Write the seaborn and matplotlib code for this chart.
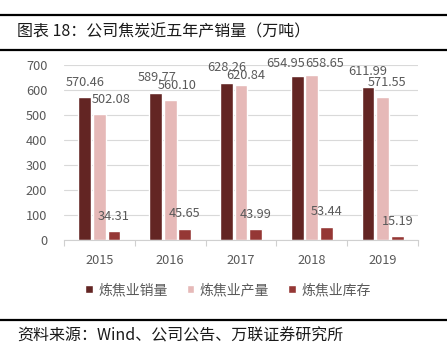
import numpy as np
import pandas as pd
import seaborn as sns
import matplotlib.pyplot as plt
from matplotlib.lines import Line2D

years = ['2015', '2016', '2017', '2018', '2019']
sales = [570.46, 589.77, 628.26, 654.95, 611.99]
production = [502.08, 560.10, 620.84, 658.65, 571.55]
inventory = [34.31, 45.65, 43.99, 53.44, 15.19]
series_names = ['炼焦业销量', '炼焦业产量', '炼焦业库存']
colors = ['#632523', '#E6B9B8', '#953735']

df = pd.DataFrame({
    'year': years * 3,
    'series': np.repeat(series_names, len(years)),
    'value': sales + production + inventory,
})

sns.set_style('white')
plt.rcParams['font.family'] = ['Noto Sans CJK SC', 'DejaVu Sans']

W, H = 447, 354
fig = plt.figure(figsize=(W / 100, H / 100), dpi=100)
ax = fig.add_axes([64 / W, 1 - 240 / H, (418 - 64) / W, (240 - 65) / H])

sns.barplot(data=df, x='year', y='value', hue='series', hue_order=series_names,
            palette=colors, saturation=1, width=0.62, gap=0.13, errorbar=None,
            ax=ax)

# value labels (Excel-like shifting to avoid overlaps)
label_dx = [[0, 1.5, 0, -12, 0], [11.5, 6.5, 5, 12.5, 4], [0, 0, 0, 0, 0]]
label_dy = [[15, 15, 15, 13, 16], [15, 14, 9.5, 12, 15], [15, 15, 15, 15, 15]]
series_vals = [sales, production, inventory]
for si, cont in enumerate(ax.containers):
    for bi, bar in enumerate(cont):
        v = series_vals[si][bi]
        ax.annotate(f'{v:.2f}', xy=(bar.get_x() + bar.get_width() / 2, bar.get_height()),
                    xytext=(label_dx[si][bi], label_dy[si][bi]), textcoords='offset pixels',
                    ha='center', va='center', fontsize=9.2, color='#595959')

ax.set_ylim(0, 700)
ax.set_yticks(np.arange(0, 701, 100))
ax.set_xlim(-0.5, 4.5)
ax.set_xlabel('')
ax.set_ylabel('')
ax.yaxis.grid(True, color='#D9D9D9', lw=0.8)
ax.set_axisbelow(True)
for s in ['left', 'top', 'right']:
    ax.spines[s].set_visible(False)
ax.spines['bottom'].set_color('#D0D0D0')
ax.spines['bottom'].set_linewidth(0.8)
ax.set_xticks(np.arange(-0.5, 5, 1), minor=True)
ax.tick_params(axis='x', which='minor', bottom=True, length=4, width=0.8, color='#D0D0D0', direction='out')
ax.tick_params(axis='x', which='major', length=0, pad=10, labelsize=9.2, labelcolor='#595959')
ax.tick_params(axis='y', length=0, pad=12, labelsize=9.2, labelcolor='#595959')

handles, labels = ax.get_legend_handles_labels()
if ax.get_legend() is not None:
    ax.get_legend().remove()
fig.legend(handles, labels, loc='center', bbox_to_anchor=(228 / W, 1 - 290 / H), ncol=3,
           frameon=False, fontsize=10, handlelength=0.55, handleheight=0.55,
           handletextpad=0.4, columnspacing=1.35, labelcolor='#595959')

# header / footer
fig.add_artist(Line2D([0, 1], [1 - 15 / H, 1 - 15 / H], transform=fig.transFigure, color='black', lw=1.6))
fig.add_artist(Line2D([0, 1], [1 - 50 / H, 1 - 50 / H], transform=fig.transFigure, color='black', lw=1.6))
fig.add_artist(Line2D([0, 1], [1 - 320 / H, 1 - 320 / H], transform=fig.transFigure, color='black', lw=1.6))
fig.text(17 / W, 1 - 32 / H, '图表 18：公司焦炭近五年产销量（万吨）', ha='left', va='center',
         fontsize=11.5, color='#1a1a1a')
fig.text(17 / W, 1 - 336 / H, '资料来源：Wind、公司公告、万联证券研究所', ha='left', va='center',
         fontsize=11.5, style='italic', color='#1a1a1a')

fig.savefig('out.png', dpi=100)
